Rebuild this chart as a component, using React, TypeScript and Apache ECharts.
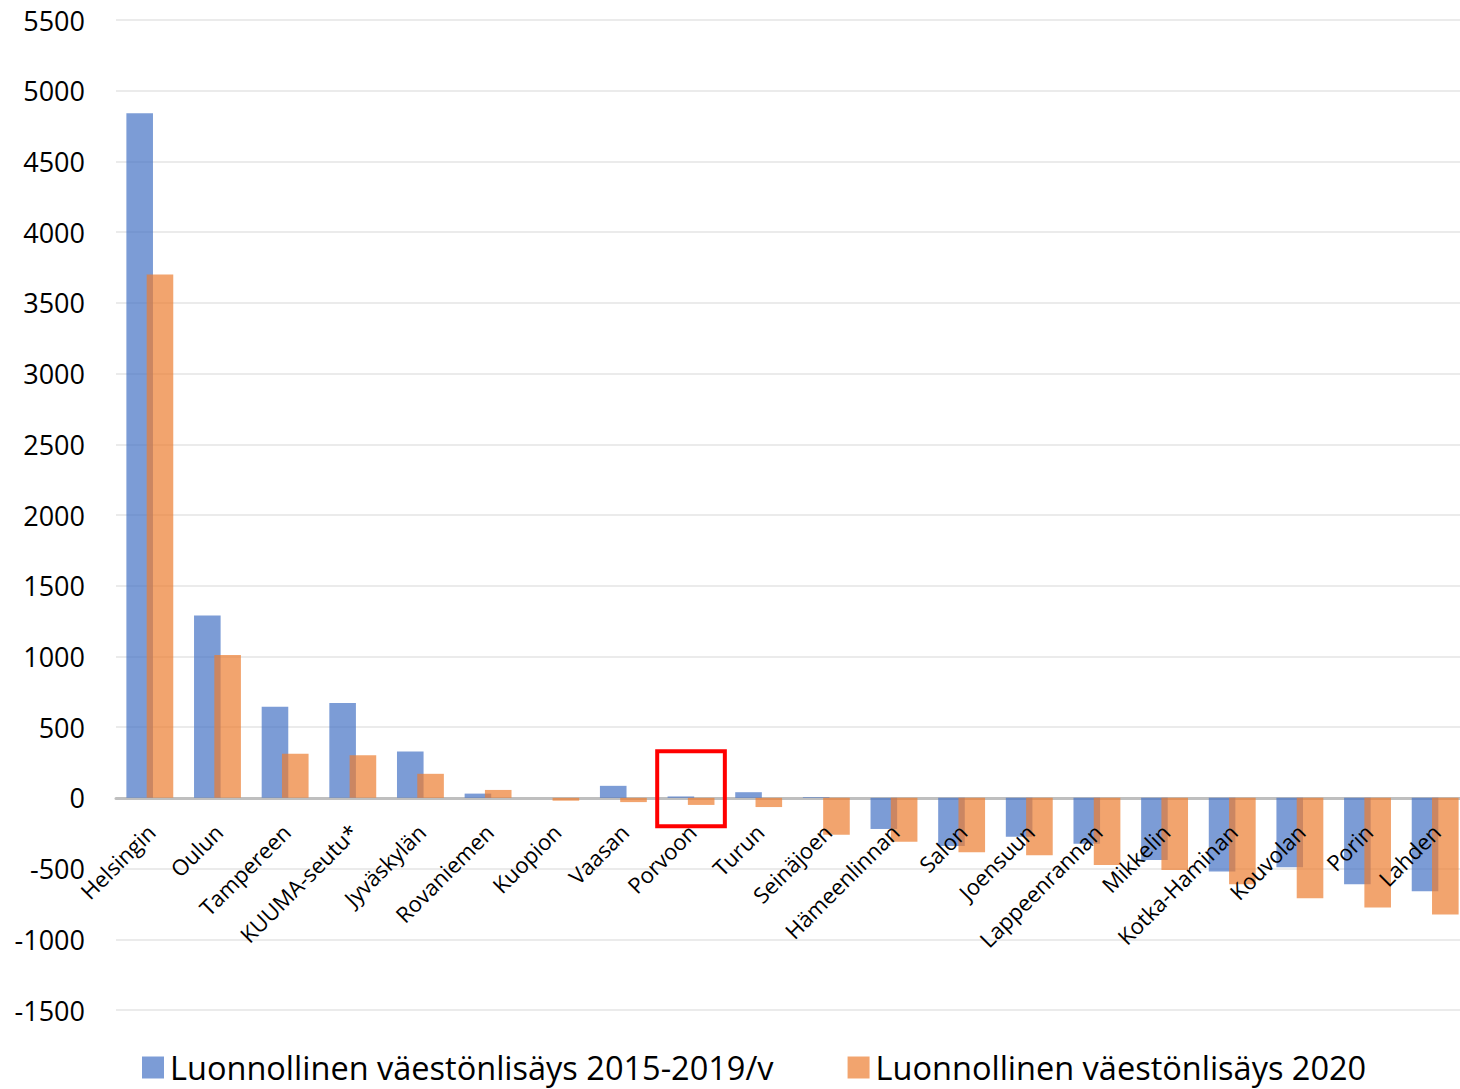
import React, { useEffect, useRef } from "react";
import * as echarts from "echarts";

const categories = [
  "Helsingin", "Oulun", "Tampereen", "KUUMA-seutu*", "Jyväskylän", "Rovaniemen",
  "Kuopion", "Vaasan", "Porvoon", "Turun", "Seinäjoen", "Hämeenlinnan", "Salon",
  "Joensuun", "Lappeenrannan", "Mikkelin", "Kotka-Haminan", "Kouvolan", "Porin", "Lahden",
];
const series2015_2019 = [
  4840, 1290, 645, 670, 327, 30, 0, 85, 10, 40, 5, -220, -340, -275, -325, -440, -520, -490, -610, -660,
];
const series2020 = [
  3700, 1010, 311, 302, 170, 56, -20, -30, -50, -65, -260, -310, -385, -405, -475, -510, -610, -710, -775, -825,
];
const seriesNames = ["Luonnollinen väestönlisäys 2015-2019/v", "Luonnollinen väestönlisäys 2020"];
const highlightCategory = "Porvoon";
const highlightRange = [330, -200];

const FONT = "Open Sans";

export default function App() {
  const ref = useRef<HTMLDivElement>(null);
  useEffect(() => {
    document.body.style.margin = "0";
    const chart = echarts.init(ref.current!, null, { renderer: "svg" });
    chart.setOption({
      animation: false,
      backgroundColor: "#ffffff",
      textStyle: { fontFamily: FONT },
      grid: { left: 116, right: -9, top: 20, bottom: 79, containLabel: false, outerBoundsMode: "none" },
      legend: {
        bottom: 0,
        left: 137,
        itemWidth: 22,
        itemHeight: 22,
        itemGap: 74,
        icon: "rect",
        textStyle: { fontSize: 32.5, color: "#000", fontFamily: FONT, padding: [0, 0, 0, 1] },
        data: seriesNames,
      },
      xAxis: {
        type: "category",
        data: categories,
        axisLine: { onZero: true, lineStyle: { color: "#BFBFBF", width: 3 } },
        axisTick: { show: false },
        axisLabel: { show: false },
      },
      yAxis: {
        type: "value",
        min: -1500,
        max: 5500,
        interval: 500,
        axisLine: { show: false },
        axisTick: { show: false },
        splitLine: { lineStyle: { color: "#EBEBEB", width: 2 } },
        axisLabel: {
          fontSize: 27,
          color: "#000",
          fontFamily: FONT,
          margin: 31,
          formatter: (v: number) => String(v),
        },
      },
      series: [
        {
          name: seriesNames[0],
          type: "bar",
          data: series2015_2019,
          barWidth: 26.6,
          barGap: "-23.7%",
          itemStyle: { color: "rgba(68,114,196,0.7)" },
        },
        {
          name: seriesNames[1],
          type: "bar",
          data: series2020,
          barWidth: 26.6,
          barGap: "-23.7%",
          itemStyle: { color: "rgba(237,125,49,0.7)" },
          markArea: {
            silent: true,
            itemStyle: { color: "rgba(0,0,0,0)", borderColor: "#FF0000", borderWidth: 4 },
            data: [[{ xAxis: highlightCategory, yAxis: highlightRange[0] }, { xAxis: highlightCategory, yAxis: highlightRange[1] }]],
          },
        },
        {
          name: "labels",
          type: "custom",
          silent: true,
          z: 10,
          data: categories.map((_, i) => [i, 0]),
          renderItem: (params: any, api: any) => {
            const p = api.coord([api.value(0), 0]);
            return {
              type: "text",
              x: p[0] + 1,
              y: p[1] + 30,
              rotation: Math.PI / 4,
              style: {
                text: categories[params.dataIndex],
                align: "right",
                verticalAlign: "middle",
                fontSize: 22,
                fontFamily: FONT,
                fill: "#000",
              },
            };
          },
        },
      ],
    });
    return () => chart.dispose();
  }, []);
  return <div ref={ref} style={{ width: 1460, height: 1089 }} />;
}
